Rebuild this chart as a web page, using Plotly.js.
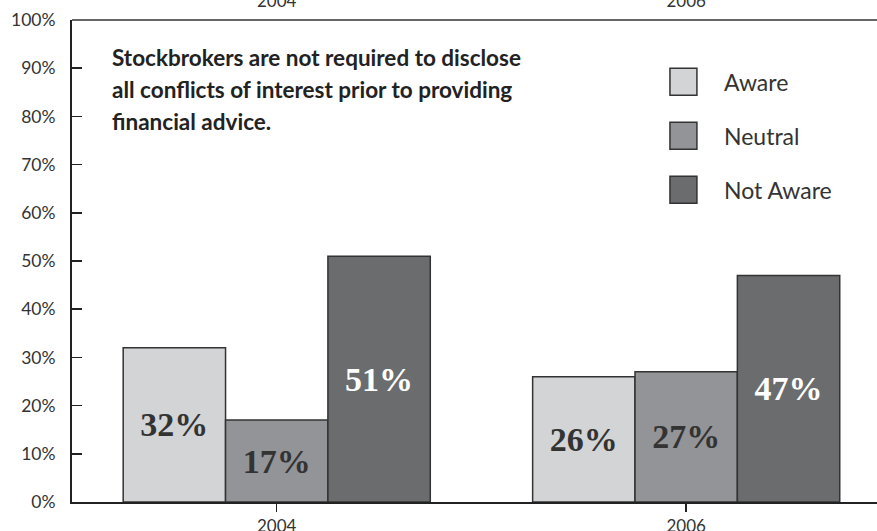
<!DOCTYPE html>
<html>
<head>
<meta charset="utf-8">
<script src="https://cdn.plot.ly/plotly-3.0.1.min.js"></script>
<style>html,body{margin:0;padding:0;background:#fff;}#chart{width:877px;height:531px;}</style>
</head>
<body>
<div id="chart"></div>
<script>
const years = ['2004', '2006'];
const seriesNames = ['Aware', 'Neutral', 'Not Aware'];
const aware = [32, 26];
const neutral = [17, 27];
const notAware = [51, 47];
const seriesValues = [aware, neutral, notAware];
const seriesColors = ['#d3d4d6', '#939497', '#6b6c6e'];
const labelColors = ['#333333', '#333333', '#ffffff'];
const yTickVals = [0, 10, 20, 30, 40, 50, 60, 70, 80, 90, 100];
const yTickText = yTickVals.map(v => v + '%');
const titleLines = ['Stockbrokers are not required to disclose', 'all conflicts of interest prior to providing', 'financial advice.'];

const traces = seriesNames.map((name, i) => ({
  type: 'bar',
  name: name,
  x: years,
  y: seriesValues[i],
  text: seriesValues[i].map(v => v + '%'),
  textposition: 'inside',
  insidetextanchor: 'middle',
  constraintext: 'none',
  textangle: 0,
  textfont: {family: 'Liberation Serif, serif', size: 34, color: labelColors[i], weight: 'bold'},
  marker: {color: seriesColors[i], line: {color: '#333333', width: 1.5}},
  hoverinfo: 'skip',
  showlegend: false
}));

const shapes = [];
const annotations = [];
// custom legend
seriesNames.forEach((name, i) => {
  const y0 = 0.9 - i * 0.112;
  shapes.push({type: 'rect', xref: 'paper', yref: 'paper', x0: 0.7428, x1: 0.7763, y0: y0 - 0.056, y1: y0,
    fillcolor: seriesColors[i], line: {color: '#333333', width: 1.5}});
  annotations.push({xref: 'paper', yref: 'paper', x: 0.808, y: y0 - 0.028, xanchor: 'left', yanchor: 'middle',
    text: name, showarrow: false, font: {family: 'Lato, sans-serif', size: 23, color: '#333333'}});
});
titleLines.forEach((t, i) => {
  annotations.push({xref: 'paper', yref: 'paper', x: 0.0475, y: 0.923 - i * 0.0665, xanchor: 'left', yanchor: 'middle',
    text: '<b>' + t + '</b>', showarrow: false, font: {family: 'Lato, sans-serif', size: 22.5, color: '#222222'}});
});
// top border line
shapes.push({type: 'line', xref: 'paper', yref: 'paper', x0: 0, x1: 1, y0: 1, y1: 1, line: {color: '#666666', width: 2}});

const layout = {
  width: 877, height: 531,
  margin: {l: 72, r: 0, t: 20, b: 29, pad: 0},
  paper_bgcolor: '#ffffff', plot_bgcolor: '#ffffff',
  barmode: 'group', bargap: 0.25, bargroupgap: 0,
  showlegend: false,
  font: {family: 'Lato, sans-serif', color: '#333333'},
  xaxis: {
    type: 'category', range: [-0.5, 1.466],
    showline: true, linecolor: '#222222', linewidth: 2,
    ticks: 'outside', ticklen: 8, tickcolor: '#222222', tickwidth: 1.5,
    tickfont: {family: 'Lato, sans-serif', size: 17, color: '#333333'},
    showgrid: false, zeroline: false, fixedrange: true
  },
  xaxis2: {
    type: 'category', overlaying: 'x', matches: 'x', side: 'top', anchor: 'y',
    showline: false, ticks: '', showgrid: false, zeroline: false,
    tickfont: {family: 'Lato, sans-serif', size: 17, color: '#333333'},
    ticklabelstandoff: 9
  },
  yaxis: {
    range: [0, 100], tickvals: yTickVals, ticktext: yTickText,
    showline: true, linecolor: '#222222', linewidth: 2,
    ticks: 'inside', ticklen: 10, tickcolor: '#222222', tickwidth: 1.5,
    tickfont: {family: 'Lato, sans-serif', size: 17.5, color: '#333333'},
    ticklabelstandoff: 11,
    showgrid: false, zeroline: false, fixedrange: true
  },
  shapes: shapes,
  annotations: annotations
};

const topTrace = {type: 'bar', x: years, y: [null, null], xaxis: 'x2', yaxis: 'y', showlegend: false, hoverinfo: 'skip'};

Plotly.newPlot('chart', traces.concat([topTrace]), layout, {displayModeBar: false, staticPlot: true});
</script>
</body>
</html>
